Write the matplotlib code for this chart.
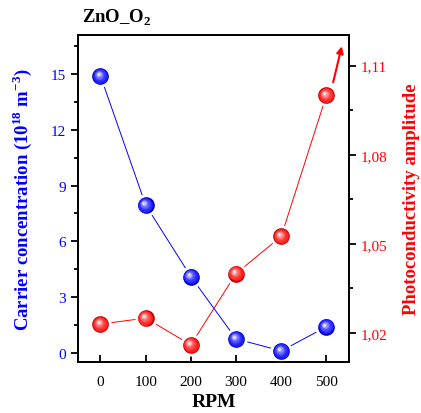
import numpy as np
import matplotlib
matplotlib.use("Agg")
import matplotlib.pyplot as plt
from matplotlib.ticker import MultipleLocator, FuncFormatter
from matplotlib.transforms import offset_copy

# --- data ---
rpm = [0, 100, 200, 300, 400, 500]
carrier = [14.9, 7.95, 4.1, 0.75, 0.1, 1.4]          # 10^18 m^-3
photo = [1.023, 1.025, 1.016, 1.040, 1.0525, 1.100]  # amplitude
arrow_tail = (515, 1.1044)
arrow_tip = (534, 1.1165)

plt.rcParams['font.family'] = ['Liberation Serif', 'DejaVu Serif']
plt.rcParams['mathtext.fontset'] = 'custom'
plt.rcParams['mathtext.rm'] = 'Liberation Serif'
plt.rcParams['mathtext.bf'] = 'Liberation Serif:bold'

BLUE = '#0000ff'
RED = '#ff0000'


def sphere(ax, x, y, base, dark, light, size=12.0, z=5):
    # fake a shaded ball: white halo, dark rim, lighter shells shifted up-left
    fig = ax.figure
    ax.plot(x, y, 'o', ms=size + 4, color='white', mec='none', zorder=z)
    ax.plot(x, y, 'o', ms=size, color=dark, mec='none', zorder=z + 0.1)
    n = 8
    for k in range(n):
        f = (k + 1) / n
        s = size * (1 - 0.85 * f)
        off = size * 0.22 * f
        c = np.array(matplotlib.colors.to_rgb(base)) * (1 - f ** 2) + np.array(light) * f ** 2
        tr = offset_copy(ax.transData, fig=fig, x=-off * 0.6, y=off * 0.6, units='points')
        ax.plot(x, y, 'o', ms=s, color=c, mec='none', transform=tr, zorder=z + 0.2 + k * 0.01)


fig = plt.figure(figsize=(4.21, 4.14), dpi=100)
ax1 = fig.add_axes([0.185, 0.123, 0.644, 0.790])
ax2 = ax1.twinx()

ax1.plot(rpm, carrier, '-', color=BLUE, lw=0.7, zorder=2)
ax2.plot(rpm, photo, '-', color=RED, lw=0.7, zorder=2)
sphere(ax1, rpm, carrier, '#1a1aff', '#0000c0', (0.92, 0.92, 1.0))
sphere(ax2, rpm, photo, '#ff1a1a', '#c00000', (1.0, 0.92, 0.92))

ax2.annotate('', xy=arrow_tip, xytext=arrow_tail,
             arrowprops=dict(arrowstyle='-|>', color=RED, lw=1.5,
                             mutation_scale=10, shrinkA=0, shrinkB=0))

ax1.set_xlim(-50, 550)
ax1.set_ylim(-0.5, 17.1)
ax2.set_ylim(1.0102, 1.1203)

ax1.set_xticks(rpm)
ax1.yaxis.set_major_locator(MultipleLocator(3))
ax1.yaxis.set_minor_locator(MultipleLocator(1.5))
ax2.yaxis.set_major_locator(MultipleLocator(0.03))
ax2.yaxis.set_minor_locator(MultipleLocator(0.015))
ax2.yaxis.set_major_formatter(FuncFormatter(lambda v, p: f'{v:.2f}'.replace('.', ',')))

ax1.tick_params(axis='x', direction='in', length=5, width=1.3, labelsize=11, pad=9)
ax1.tick_params(axis='y', which='major', direction='out', length=5, width=1.3,
                labelsize=11, labelcolor=BLUE)
ax1.tick_params(axis='y', which='minor', direction='out', length=3, width=1.3)
ax2.tick_params(axis='y', which='major', direction='out', length=5, width=1.3,
                labelsize=11, labelcolor=RED)
ax2.tick_params(axis='y', which='minor', direction='out', length=3, width=1.3)

for ax in (ax1, ax2):
    for s in ax.spines.values():
        s.set_linewidth(1.3)

ax1.set_xlabel('RPM', fontsize=14, fontweight='bold', labelpad=4)
ax1.set_ylabel(r'Carrier concentration (10$^{\mathbf{18}}$ m$^{\mathbf{-3}}$)',
               fontsize=13.5, fontweight='bold', color=BLUE, labelpad=12)
ax2.set_ylabel('Photoconductivity amplitude', fontsize=13.5, fontweight='bold',
               color=RED, labelpad=11)
ax1.text(0.015, 1.025, r'ZnO_O$_{\mathbf{2}}$', transform=ax1.transAxes,
         fontsize=13.5, fontweight='bold', ha='left', va='bottom')

fig.savefig('out.png', dpi=100)
